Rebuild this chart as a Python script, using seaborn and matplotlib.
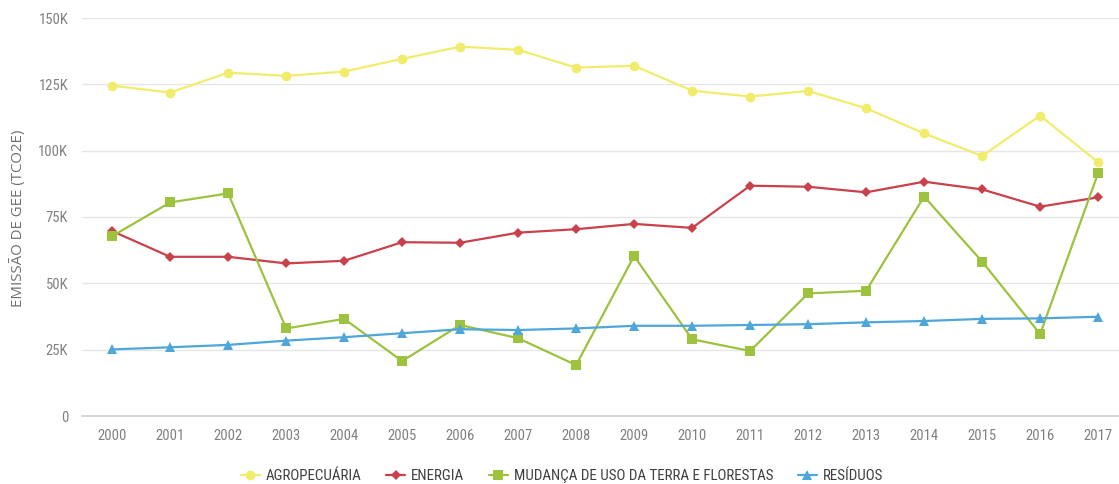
import numpy as np
import pandas as pd
import seaborn as sns
import matplotlib.pyplot as plt
from matplotlib.ticker import FuncFormatter, FixedLocator

# Data (thousand tCO2e)
years = [str(y) for y in range(2000, 2018)]
agropecuaria = [124.5, 121.9, 129.4, 128.2, 129.8, 134.6, 139.2, 138.0, 131.3,
                132.0, 122.6, 120.4, 122.5, 116.0, 106.5, 98.0, 113.2, 95.6]
energia = [69.7, 60.0, 60.0, 57.5, 58.5, 65.5, 65.3, 69.1, 70.4,
           72.4, 70.9, 86.8, 86.4, 84.3, 88.3, 85.4, 78.9, 82.4]
mudanca = [67.8, 80.5, 83.9, 33.0, 36.6, 20.7, 34.3, 29.3, 19.2,
           60.3, 28.9, 24.5, 46.2, 47.2, 82.7, 58.2, 30.9, 91.5]
residuos = [25.1, 25.9, 26.8, 28.4, 29.7, 31.2, 32.7, 32.4, 33.0,
            34.0, 34.0, 34.3, 34.6, 35.3, 35.8, 36.6, 36.8, 37.4]

series_names = ["AGROPECUÁRIA", "ENERGIA", "MUDANÇA DE USO DA TERRA E FLORESTAS", "RESÍDUOS"]
colors = ["#f1ec6c", "#c8414b", "#9cc23e", "#4ea6d9"]
markers = ["o", "D", "s", "^"]
msizes = [7, 5, 7, 7]

df = pd.DataFrame({
    "ano": years * 4,
    "serie": np.repeat(series_names, len(years)),
    "valor": np.array(agropecuaria + energia + mudanca + residuos) * 1000,
})
df["x"] = df["ano"].map({y: i for i, y in enumerate(years)})

sns.set_style("white")
plt.rcParams["font.family"] = ["Roboto Condensed", "DejaVu Sans"]
plt.rcParams["font.stretch"] = "condensed"

fig = plt.figure(figsize=(11.19, 4.84), dpi=100)
ax = fig.add_axes([82 / 1119, 1 - 416 / 484, 1 - 82 / 1119, (416 - 18) / 484])

for name, c, m, ms in zip(series_names, colors, markers, msizes):
    sns.lineplot(data=df[df["serie"] == name], x="x", y="valor", ax=ax,
                 color=c, marker=m, markersize=ms, markeredgewidth=0,
                 linewidth=1.6, label=name, zorder=3)

ax.set_ylim(0, 150000)
ax.set_xlim(-0.52, 17.36)
ax.yaxis.set_major_locator(FixedLocator(np.arange(0, 150001, 25000)))
ax.yaxis.set_major_formatter(FuncFormatter(lambda v, p: "0" if v == 0 else f"{int(v / 1000)}K"))
ax.grid(axis="y", color="#e6e6e6", linewidth=1)
ax.set_axisbelow(True)

ax.set_xticks(range(len(years)))
ax.set_xticklabels(years)
ax.set_xticks(np.arange(0.5, len(years) - 0.5, 1), minor=True)
ax.tick_params(axis="x", which="major", length=0, pad=9, labelsize=10.5, labelcolor="#808080")
ax.tick_params(axis="x", which="minor", length=9, width=1, color="#d0d0d0")
ax.tick_params(axis="y", length=0, pad=10, labelsize=10.5, labelcolor="#808080")

for s in ["top", "right", "left"]:
    ax.spines[s].set_visible(False)
ax.spines["bottom"].set_color("#d0d0d0")
ax.spines["bottom"].set_linewidth(1.2)

ax.set_xlabel("")
ax.set_ylabel("")
fig.text(18 / 1119, 1 - 218 / 484, "EMISSÃO DE GEE (TCO2E)", rotation=90,
         ha="center", va="center", fontsize=10.8, color="#707070",
         family=["Open Sans", "DejaVu Sans"], stretch="normal")

handles, labels = ax.get_legend_handles_labels()
ax.get_legend().remove()
leg = fig.legend(handles, labels, loc="center", bbox_to_anchor=(562 / 1119, 1 - 476 / 484),
                 ncol=4, frameon=False, fontsize=10.8, handlelength=1.3,
                 columnspacing=1.6, handletextpad=0.4, borderaxespad=0, borderpad=0)
for t in leg.get_texts():
    t.set_color("#404040")

fig.savefig("out.png", dpi=100)
